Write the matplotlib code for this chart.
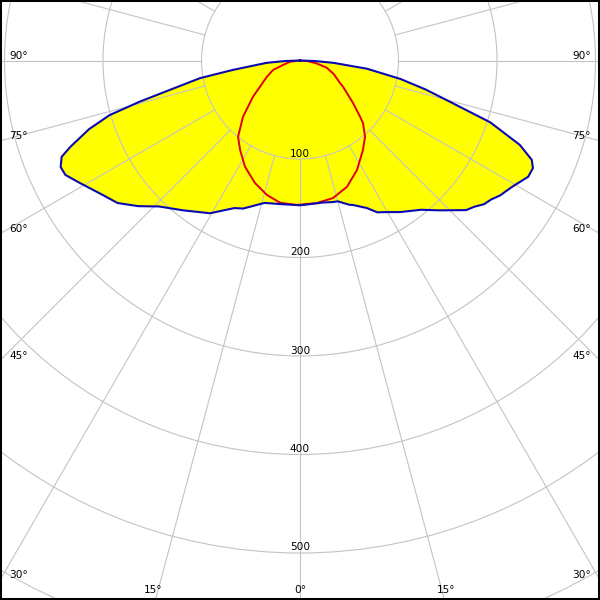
import numpy as np
import matplotlib
matplotlib.use("Agg")
from matplotlib import pyplot as plt
from matplotlib.patches import Circle

# plano C0-C180 (azul, relleno amarillo), angulo gamma en grados, negativo = izquierda
blue_gamma = [-90, -88, -86, -82, -80, -78, -75.6, -74, -72, -69.4, -68, -66, -64, -61,
              -56, -52, -48, -44, -38, -30.5, -24, -21, -14, -7, 0,
              7, 9, 13, 15, 19, 20, 24.4, 27, 29, 33.5, 39, 43, 48, 50, 52, 54, 56,
              59.4, 63, 65.2, 66.8, 69, 72, 74.6, 77, 79.6, 83, 86, 88, 90]
blue_cd = [0, 15, 34, 69, 103, 125, 168, 201, 225, 249, 261, 266, 265, 256,
           243, 235, 221, 206, 193, 180, 164, 161, 149, 147, 147,
           146, 146, 147.5, 148, 155, 156, 164.5, 173, 176, 184.5, 195, 208, 227, 231, 237, 240, 245,
           251, 260, 260.5, 256, 239, 203, 158, 131, 103.5, 68.5, 34, 15, 0]

# plano C90-C270 (rojo)
red_gamma = [-90, -83, -75.2, -70.6, -63.9, -56.8, -52.4, -45.4, -39.1, -33.8, -27.4,
             -20.2, -13.8, -8, -1.2, 6.8, 13.5, 20.4, 27.5, 35.1, 40.5, 45.2, 46.9,
             51.3, 58.6, 60.6, 68, 75, 80, 85, 90]
red_cd = [0, 10, 18, 29, 37.4, 48.5, 60.2, 81.2, 99.7, 109.3, 121.4,
          132.5, 140.6, 145.8, 146.7, 145.7, 143.6, 136.8, 125.3, 111.1, 101.7, 90.1, 83.5,
          68.9, 51.2, 46.6, 37, 28, 17, 8, 0]

rings = [100, 200, 300, 400, 500, 600]
angle_ticks = [90, 75, 60, 45, 30]
bottom_ticks = [15, 0, 15]

px = 0.985  # pixeles por cd
fig = plt.figure(figsize=(6, 6), dpi=100)
ax = fig.add_axes([0, 0, 1, 1])
X = 300 / px
ax.set_xlim(-X, X)
ax.set_ylim(-539.5 / px, 60.5 / px)
ax.set_xticks([])
ax.set_yticks([])
for s in ax.spines.values():
    s.set_linewidth(2.9)
    s.set_color('black')


def to_xy(g, r):
    g = np.radians(np.array(g, dtype=float))
    r = np.array(r, dtype=float)
    return r * np.sin(g), -r * np.cos(g)


bx, by = to_xy(blue_gamma, blue_cd)
rx, ry = to_xy(red_gamma, red_cd)

ax.fill(bx, by, color='#ffff00', zorder=1, lw=0)

grid = '#c4c4c4'
for r in rings:
    ax.add_patch(Circle((0, 0), r, fill=False, ec=grid, lw=0.8, zorder=2))
for a in range(0, 360, 15):
    gx, gy = to_xy([a, a], [100, 900])
    ax.plot(gx, gy, color=grid, lw=0.8, zorder=2)

ax.plot(bx, by, color='#0a0ab0', lw=1.5, zorder=4)
ax.plot(rx, ry, color='#e00010', lw=1.4, zorder=3)

fs = 7.6
d = 1 / px
for r in rings[:5]:
    ax.text(0, -r + 2.5 * d, str(r), ha='center', va='baseline', fontsize=fs, zorder=5)

for a in angle_ticks:
    yline = -X / np.tan(np.radians(a)) if a != 90 else 0
    ax.text(-X + 9 * d, yline + 2 * d, f"{a}°", ha='left', va='baseline', fontsize=fs, zorder=5)
    ax.text(X - 9 * d, yline + 2 * d, f"{a}°", ha='right', va='baseline', fontsize=fs, zorder=5)

ybot = -539.5 / px
for a, sgn in zip(bottom_ticks, [-1, 0, 1]):
    xline = sgn * (-ybot) * np.tan(np.radians(a))
    ax.text(xline + sgn * 2 * d, ybot + 7 * d, f"{a}°", ha='center', va='baseline', fontsize=fs, zorder=5)

fig.savefig("out.png", dpi=100)
